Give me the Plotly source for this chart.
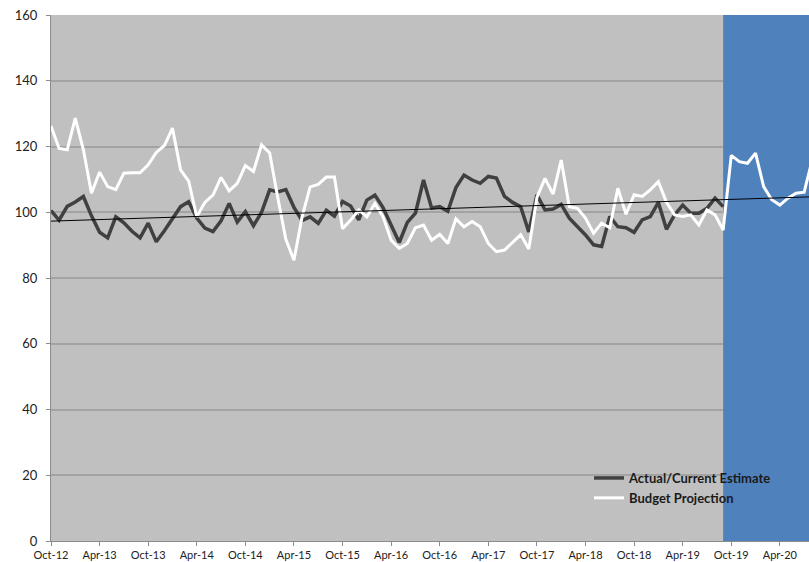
import pandas as pd
import plotly.graph_objects as go

# Monthly categories Oct-12 .. Aug-20
months = [d.strftime("%b-%y") for d in pd.date_range("2012-10-01", periods=95, freq="MS")]

actual = [100.5, 97.6, 101.8, 103.1, 104.8, 98.9, 93.9, 92.2, 98.6, 96.8,
          94.2, 92.2, 96.7, 91.0, 94.4, 97.9, 101.7, 103.2, 98.2, 95.2,
          94.1, 97.4, 102.7, 97.0, 100.2, 95.9, 100.0, 106.8, 106.2, 106.9,
          101.5, 97.5, 98.6, 96.6, 100.6, 98.8, 103.3, 101.9, 97.7, 103.7,
          105.2, 101.4, 96.1, 90.8, 96.9, 99.7, 109.8, 101.3, 101.7, 100.3,
          107.5, 111.3, 109.8, 108.8, 110.9, 110.4, 104.8, 103.0, 101.7, 94.0,
          105.3, 100.7, 101.0, 102.4, 98.2, 95.6, 93.1, 90.1, 89.6, 98.7,
          95.6, 95.3, 93.9, 97.7, 98.7, 103.0, 94.8, 99.2, 102.2, 99.7,
          99.7, 101.2, 104.3, 101.7]

budget = [126.2, 119.4, 119.0, 128.6, 119.0, 105.8, 112.2, 107.8, 106.9, 111.9,
          112.0, 112.0, 114.4, 118.2, 120.3, 125.6, 112.9, 109.5, 98.6, 103.0,
          105.2, 110.6, 106.5, 108.8, 114.2, 112.4, 120.5, 118.0, 104.5, 91.8,
          85.4, 98.6, 107.7, 108.5, 110.7, 110.7, 95.0, 97.6, 100.7, 98.6,
          102.7, 98.6, 91.5, 89.0, 90.5, 95.3, 96.1, 91.5, 93.3, 90.5,
          98.0, 95.6, 97.2, 95.6, 90.5, 88.0, 88.5, 90.8, 93.2, 88.8,
          104.5, 110.3, 105.5, 115.9, 101.7, 101.2, 98.2, 93.6, 96.7, 95.3,
          107.3, 99.4, 105.3, 104.8, 106.8, 109.3, 103.0, 99.2, 98.7, 99.2,
          96.1, 100.7, 99.2, 94.6, 117.3, 115.4, 114.9, 118.0, 107.8, 103.8,
          102.2, 104.3, 105.8, 106.1, 116.0]

trend_ends = [97.3, 104.7]   # linear trend at first and last month

tick_step = 6
tick_idx = list(range(0, len(months), tick_step))
tick_labels = [months[i] for i in tick_idx]

x_act = list(range(len(actual)))
x_bud = list(range(len(budget)))
x_trend = [0, len(months) - 1]

fig = go.Figure()
fig.add_trace(go.Scatter(x=x_act, y=actual, mode="lines", name="Actual/Current Estimate",
                         line=dict(color="#404040", width=3.5)))
fig.add_trace(go.Scatter(x=x_bud, y=budget, mode="lines", name="Budget Projection",
                         line=dict(color="#ffffff", width=3)))
fig.add_trace(go.Scatter(x=x_trend, y=trend_ends, mode="lines", showlegend=False,
                         line=dict(color="#000000", width=1)))

# gridline hidden behind legend, and forecast region (after last actual)
fig.add_shape(type="rect", xref="paper", yref="y", x0=0.718, x1=0.8865, y0=17, y1=23,
              fillcolor="#c0c0c0", line=dict(width=0), layer="between")
fig.add_shape(type="rect", xref="x", yref="y", x0=len(actual) - 1, x1=len(months) + 2,
              y0=0, y1=160, fillcolor="#4f81bd", line=dict(width=0), layer="between")

fig.update_layout(
    width=809, height=562,
    margin=dict(l=51, r=0, t=15, b=21),
    paper_bgcolor="#ffffff",
    plot_bgcolor="#c0c0c0",
    font=dict(family="Lato", color="#222222"),
    showlegend=True,
    legend=dict(x=(589 - 51) / 758, y=(541 - 463) / 526, xanchor="left", yanchor="top",
                bgcolor="rgba(0,0,0,0)", itemwidth=30, tracegroupgap=0,
                font=dict(family="Lato", size=13, color="#1a1a1a", weight="bold")),
    xaxis=dict(range=[0, 93.6], tickmode="array", tickvals=tick_idx, ticktext=tick_labels,
               showgrid=False, zeroline=False, showline=True, linecolor="#8c8c8c", linewidth=1,
               ticks="outside", ticklen=4, tickcolor="#8c8c8c",
               tickfont=dict(family="Lato", size=11, color="#222222"), automargin=False),
    yaxis=dict(range=[0, 160], dtick=20, showgrid=True, gridcolor="#a3a3a3", gridwidth=1.5,
               zeroline=False, showline=True, linecolor="#8c8c8c", linewidth=1,
               ticks="outside", ticklen=4, tickcolor="#8c8c8c", ticklabelstandoff=6,
               tickfont=dict(family="Lato", size=13, color="#222222"), automargin=False),
)

fig.write_html("out.html", config={"displayModeBar": False},
               post_script="document.body.style.margin='0';document.body.style.overflow='hidden';")
